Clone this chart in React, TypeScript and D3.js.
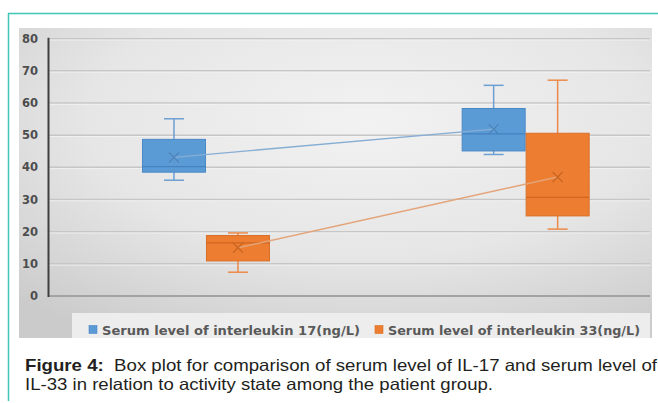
import React from "react";
import * as d3 from "d3";

const categories = ["Group 1", "Group 2"];
const seriesNames = [
  "Serum level of interleukin 17(ng/L)",
  "Serum level of interleukin 33(ng/L)",
];
const yTicks = [0, 10, 20, 30, 40, 50, 60, 70, 80];

const il17Min = [36, 44];
const il17Q1 = [38.5, 45.1];
const il17Median = [40.2, 50.4];
const il17Q3 = [48.7, 58.3];
const il17Max = [55.1, 65.5];
const il17Mean = [43.1, 51.9];

const il33Min = [7.4, 20.8];
const il33Q1 = [10.9, 24.9];
const il33Median = [16.5, 30.7];
const il33Q3 = [18.8, 50.6];
const il33Max = [19.6, 67.1];
const il33Mean = [15, 37];

const W = 658;
const H = 403;

const styles = [
  { fill: "#5b9bd5", stroke: "#4a88c6", whisker: "#6c9fd2", median: "#3f7cbb", line: "#86add3", mark: "#4d80b6" },
  { fill: "#ed7d31", stroke: "#d96f27", whisker: "#eb8a48", median: "#c8621f", line: "#e3a478", mark: "#c8641f" },
];

export default function App() {
  const plotLeft = 49;
  const plotRight = 650;
  const y = d3.scaleLinear().domain([0, 80]).range([296, 38.7]);
  const xGroup = d3.scalePoint<string>().domain(categories).range([plotLeft, plotRight]).padding(0.44).align(0.558);
  const xInner = d3.scaleBand<string>().domain(seriesNames).range([-64, 64]).paddingInner(0);
  const bw = xInner.bandwidth();

  const data = [
    { name: seriesNames[0], min: il17Min, q1: il17Q1, med: il17Median, q3: il17Q3, max: il17Max, mean: il17Mean },
    { name: seriesNames[1], min: il33Min, q1: il33Q1, med: il33Median, q3: il33Q3, max: il33Max, mean: il33Mean },
  ];

  const cx = (si: number, ci: number) => (xGroup(categories[ci]) as number) + (xInner(seriesNames[si]) as number) + bw / 2;
  const capW = 20;
  const line = d3.line<[number, number]>().x((d) => d[0]).y((d) => d[1]);

  return (
    <svg width={W} height={H} style={{ position: "absolute", left: 0, top: 0 }} xmlns="http://www.w3.org/2000/svg">
      <defs>
        <radialGradient id="bg" cx="0.55" cy="0.3" r="0.8">
          <stop offset="0" stopColor="#f2f2f2" />
          <stop offset="0.55" stopColor="#e6e6e6" />
          <stop offset="1" stopColor="#cbcbcb" />
        </radialGradient>
      </defs>
      <rect x={0} y={0} width={W} height={H} fill="#ffffff" />
      {/* teal frame */}
      <line x1={8} y1={13.5} x2={W} y2={13.5} stroke="#3ec6b6" strokeWidth={1.5} />
      <line x1={8.5} y1={13} x2={8.5} y2={401} stroke="#3ec6b6" strokeWidth={1.5} />
      {/* chart background */}
      <rect x={19} y={28} width={633} height={310} fill="url(#bg)" />
      {/* gridlines */}
      {yTicks.filter((t) => t > 0).map((t) => (
        <g key={t}>
          <line x1={plotLeft} x2={plotRight} y1={y(t)} y2={y(t)} stroke="#c6c6c6" strokeWidth={1.5} />
          <line x1={plotLeft} x2={plotRight} y1={y(t) + 1.3} y2={y(t) + 1.3} stroke="#f4f4f4" strokeWidth={0.8} />
        </g>
      ))}
      <line x1={plotLeft} x2={plotRight} y1={y(0)} y2={y(0)} stroke="#a3a3a3" strokeWidth={2} />
      {/* y axis */}
      <line x1={48.5} x2={48.5} y1={y(80) - 1} y2={y(0) + 1} stroke="#3f3f3f" strokeWidth={2} />
      {yTicks.map((t) => (
        <text key={t} x={38} y={y(t)} dy="0.36em" textAnchor="end" fontFamily="DejaVu Sans" fontWeight="bold" fontSize={11.5} fill="#4d4d4d">
          {t}
        </text>
      ))}
      {/* boxes */}
      {data.map((s, si) => (
        <g key={s.name}>
          {categories.map((c, ci) => {
            const x = cx(si, ci);
            const st = styles[si];
            return (
              <g key={c}>
                <line x1={x} x2={x} y1={y(s.max[ci])} y2={y(s.q3[ci])} stroke={st.whisker} strokeWidth={1.5} />
                <line x1={x} x2={x} y1={y(s.q1[ci])} y2={y(s.min[ci])} stroke={st.whisker} strokeWidth={1.5} />
                <line x1={x - capW / 2} x2={x + capW / 2} y1={y(s.max[ci])} y2={y(s.max[ci])} stroke={st.whisker} strokeWidth={1.5} />
                <line x1={x - capW / 2} x2={x + capW / 2} y1={y(s.min[ci])} y2={y(s.min[ci])} stroke={st.whisker} strokeWidth={1.5} />
                <rect x={x - bw / 2 + 0.5} y={y(s.q3[ci])} width={bw - 1} height={y(s.q1[ci]) - y(s.q3[ci])} fill={st.fill} stroke={st.stroke} strokeWidth={1} />
                <line x1={x - bw / 2 + 0.5} x2={x + bw / 2 - 0.5} y1={y(s.med[ci])} y2={y(s.med[ci])} stroke={st.median} strokeWidth={1} />
              </g>
            );
          })}
        </g>
      ))}
      {/* mean lines and markers */}
      {data.map((s, si) => {
        const pts = categories.map((c, ci) => [cx(si, ci), y(s.mean[ci])] as [number, number]);
        const st = styles[si];
        return (
          <g key={"m" + si}>
            <path d={line(pts) || ""} fill="none" stroke={st.line} strokeWidth={1.4} />
            {pts.map((p, i) => (
              <path key={i} d={`M${p[0] - 5},${p[1] - 5}L${p[0] + 5},${p[1] + 5}M${p[0] - 5},${p[1] + 5}L${p[0] + 5},${p[1] - 5}`} stroke={st.mark} strokeWidth={1.1} fill="none" />
            ))}
          </g>
        );
      })}
      {/* legend */}
      <rect x={72} y={313} width={578} height={25} fill="#ededed" />
      {seriesNames.map((n, i) => {
        const lx = i === 0 ? 89 : 375;
        return (
          <g key={n}>
            <rect x={lx} y={325.5} width={8} height={8} fill={styles[i].fill} stroke={styles[i].stroke} strokeWidth={0.6} />
            <text x={lx + 13} y={334.5} fontFamily="DejaVu Sans" fontWeight="bold" fontSize={11.5} fill="#595959" textLength={i === 0 ? 258 : 252} lengthAdjust="spacingAndGlyphs">
              {n}
            </text>
          </g>
        );
      })}
      {/* caption */}
      <text x={25} y={371} fontFamily="Liberation Sans, Arial, sans-serif" fontSize={16.5} fill="#231f20" textLength={632} lengthAdjust="spacingAndGlyphs">
        <tspan fontWeight="bold">Figure 4:</tspan>
        <tspan>{"\u00a0 Box plot for comparison of serum level of IL-17 and serum level of"}</tspan>
      </text>
      <text x={25} y={390} fontFamily="Liberation Sans, Arial, sans-serif" fontSize={16.5} fill="#231f20" textLength={468} lengthAdjust="spacingAndGlyphs">
        IL-33 in relation to activity state among the patient group.
      </text>
    </svg>
  );
}
